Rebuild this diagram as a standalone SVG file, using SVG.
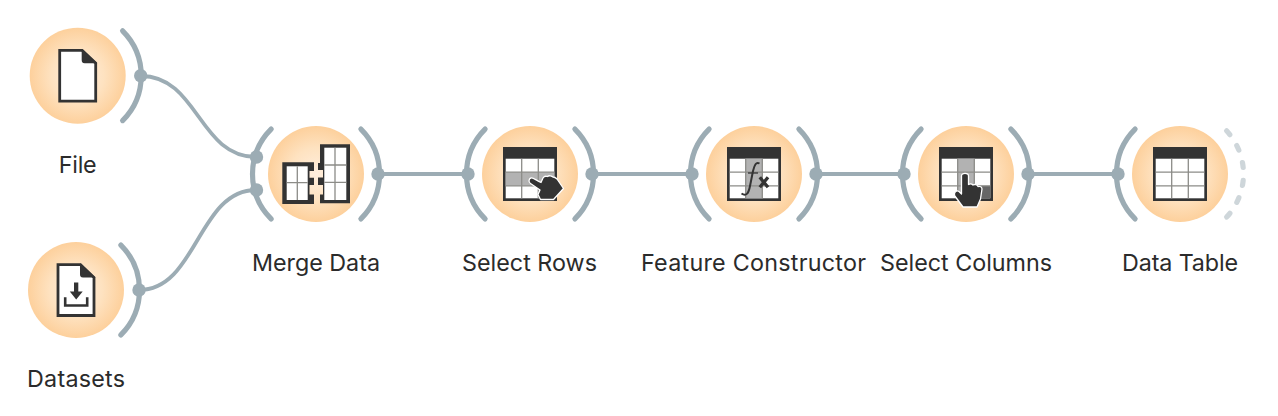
<svg xmlns="http://www.w3.org/2000/svg" width="1278" height="416" viewBox="0 0 1278 416">
<style>
.arc{fill:none;stroke:#9cacb4;stroke-width:5.2;stroke-linecap:round}
.off{fill:none;stroke:#ced6da;stroke-width:5.2;stroke-linecap:round;stroke-dasharray:5 12.900;stroke-dashoffset:-2.500}
.dot{fill:#9cacb4}
.link{fill:none;stroke:#9cacb4;stroke-width:3.800}
.ink{fill:#333}
.grid{stroke:#8c8c88;stroke-width:1.300;fill:none}
.hand{fill:#333;stroke:#fff;stroke-width:1.300;stroke-linejoin:round}
.doc{fill:#fff;stroke:#333;stroke-width:2.800}
text{font-family:Inter,"Liberation Sans",sans-serif;font-size:23.300px;fill:#2b2b2b;text-anchor:middle}
</style>
<defs>
<radialGradient id="g"><stop offset="0" stop-color="#ffeedd"/><stop offset="0.55" stop-color="#fee2c0"/><stop offset="1" stop-color="#fdd09c"/></radialGradient>
<circle id="disc" r="48" fill="url(#g)"/>
<path id="la" d="M-44.900,-44.900A63.500,63.500 0 0 0 -44.900,44.900"/>
<path id="ra" d="M44.900,-44.900A63.500,63.500 0 0 1 44.900,44.900"/>
<g id="table">
<rect x="-27" y="-27" width="54" height="54" class="ink"/>
<rect x="-24.300" y="-15.300" width="48.600" height="39.600" fill="#fff"/>
</g>
<path id="gridl" d="M-8.300,-15.300V24.300M8.300,-15.300V24.300M-24.300,-1.800H24.300M-24.300,11.800H24.300"/>
<g id="page">
<path class="doc" d="M-18,-25.300H4.500L18,-12.500V25.500H-18Z"/>
<path class="ink" d="M4,-26.700L19.500,-12.500H7C4.500,-12.500 4,-14 4,-16Z"/>
</g>
</defs>
<g id="connectors">
<path class="link" d="M141,76C198,76 199,157 256,157"/>
<path class="link" d="M139,290C197,290 198,190 256,190"/>
<path class="link" d="M378,174H468"/>
<path class="link" d="M592,174H692"/>
<path class="link" d="M816,174H904"/>
<path class="link" d="M1028,174H1118"/>
</g>
<g id="file" transform="translate(77.700,75.700)">
<use href="#disc"/><use href="#ra" class="arc"/><circle class="dot" cx="63" r="6.700"/>
<use href="#page"/>
<text y="97" textLength="38">File</text>
</g>
<g id="datasets" transform="translate(76,290)">
<use href="#disc"/><use href="#ra" class="arc"/><circle class="dot" cx="63" r="6.700"/>
<use href="#page"/>
<path class="ink" d="M-2,-7.500H2.300V1.500H6.700L0.200,9.500L-6.200,1.500H-2Z"/>
<path d="M-10.800,7.300V15.500H11.200V7.300" fill="none" stroke="#333" stroke-width="2.600"/>
<text y="96.800" textLength="98">Datasets</text>
</g>
<g id="merge-data" transform="translate(316,174)">
<use href="#disc"/><use href="#la" class="arc"/><use href="#ra" class="arc"/>
<circle class="dot" cx="-59.500" cy="-17" r="6.700"/><circle class="dot" cx="-59.500" cy="16" r="6.700"/><circle class="dot" cx="62" r="6.700"/>
<path class="ink" d="M-33.700,-11.700H-2V-3H-6.500V3.700H-2V11H-6.500V20.500H-2V30H-33.700Z"/>
<rect x="-29.300" y="-7.700" width="21" height="33.700" fill="#fff"/>
<path class="grid" d="M-18.700,-7.700V26M-29.300,8.700H-8.300"/>
<path class="ink" d="M4,-29.700H34V29.300H4V20.500H7V11H2V3.500H7V-4H2V-11H4Z"/>
<rect x="8.300" y="-26.300" width="22" height="52.300" fill="#fff"/>
<path class="grid" d="M19,-26.300V26M8.300,-9H30.300M8.300,8.300H30.300"/>
<text y="97" textLength="128">Merge Data</text>
</g>
<g id="select-rows" transform="translate(530,174)">
<use href="#disc"/><use href="#la" class="arc"/><use href="#ra" class="arc"/>
<circle class="dot" cx="-62" r="6.700"/><circle class="dot" cx="62" r="6.700"/>
<use href="#table"/><rect x="-24.300" y="-1.800" width="48.600" height="13.600" fill="#b2b2b2"/><use href="#gridl" class="grid"/>
<path class="hand" d="M1,4C3,3.500 5,5.500 11,8.500L13,4C14.500,1.500 16,2 17.500,2.500C19,1 22,2 23,3C25,3 26,4 27,5L33.500,14.500L23.500,25.500H10.500L8,20.500L10,16L0.500,9.500C-2,8 -1,4.500 1,4Z"/>
<text x="-0.500" y="97" textLength="135">Select Rows</text>
</g>
<g id="feature-constructor" transform="translate(754,174)">
<use href="#disc"/><use href="#la" class="arc"/><use href="#ra" class="arc"/>
<circle class="dot" cx="-62" r="6.700"/><circle class="dot" cx="62" r="6.700"/>
<use href="#table"/><rect x="-8.300" y="-15.300" width="16.600" height="39.600" fill="#b2b2b2"/><use href="#gridl" class="grid"/>
<path d="M-12.500,19.500C-8,22.500 -5.500,20 -4,12L-1,-3C0.500,-9 2,-12.500 5.500,-10.500" fill="none" stroke="#333" stroke-width="2"/>
<path d="M-6,-1H4" stroke="#333" stroke-width="1.300"/>
<path d="M5.800,3.300L14,13.300M14,3.300L5.800,13.300" stroke="#333" stroke-width="3.300"/>
<text x="-0.500" y="97" textLength="225">Feature Constructor</text>
</g>
<g id="select-columns" transform="translate(966,174)">
<use href="#disc"/><use href="#la" class="arc"/><use href="#ra" class="arc"/>
<circle class="dot" cx="-62" r="6.700"/><circle class="dot" cx="62" r="6.700"/>
<use href="#table"/><rect x="-8.300" y="-15.300" width="16.600" height="39.600" fill="#b2b2b2"/><rect x="8.300" y="11.800" width="16" height="12.500" fill="#666"/><use href="#gridl" class="grid"/>
<path class="hand" d="M-4.500,2C-4.500,-1.500 2.500,-1.500 2.500,2V10.500C4,9.500 6,10 7,11C9,10 11,10.500 12,12.500C14,12 16,13 16,15L14.500,25L11,33H-3L-11.500,21.500C-12,18 -9.500,16 -7,17.500L-4.500,20Z"/>
<text y="97" textLength="172">Select Columns</text>
</g>
<g id="data-table" transform="translate(1180,174)">
<use href="#disc"/><use href="#la" class="arc"/><use href="#ra" class="off"/>
<circle class="dot" cx="-62" r="6.700"/>
<use href="#table"/><use href="#gridl" class="grid"/>
<text y="97" textLength="116">Data Table</text>
</g>
</svg>
